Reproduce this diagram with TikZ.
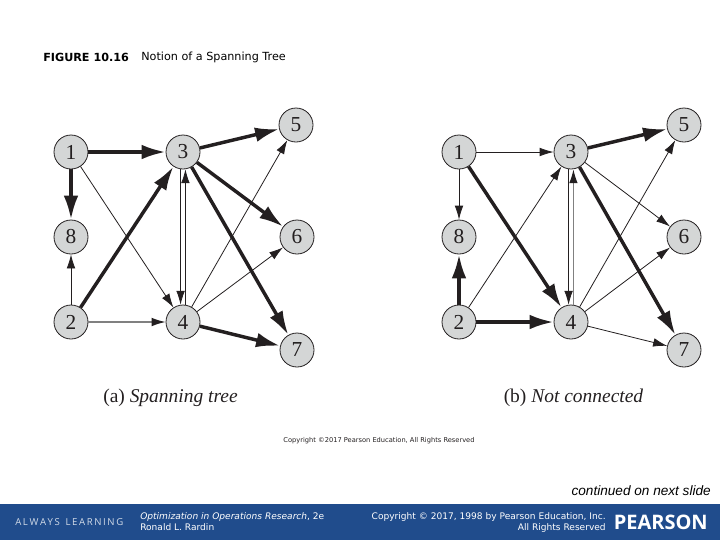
\documentclass[tikz,border=0pt]{standalone}
\usepackage{fontspec}
\setmainfont{Liberation Serif}
\newfontfamily\slidefont{DejaVu Sans}
\newfontfamily\notefont{Liberation Sans}
\newfontfamily\logofont{Open Sans}
\usetikzlibrary{arrows.meta,positioning}
\definecolor{bandblue}{HTML}{204C8C}
\definecolor{nodegray}{HTML}{D4D6D6}
\definecolor{inkdark}{HTML}{231F20}

\begin{document}
\begin{tikzpicture}[
    x=0.75pt, y=-0.75pt,
    vertex/.style={circle, draw=inkdark, fill=nodegray, line width=0.6pt, minimum size=25.5pt,
                   inner sep=0pt, font=\fontsize{16}{16}\selectfont, text=inkdark},
    thinarc/.style={-{Latex[length=10.5pt,width=6.5pt,color=inkdark]}, line width=0.6pt, draw=inkdark},
    greyarc/.style={-{Latex[length=10.5pt,width=6.5pt,color=inkdark]}, line width=1pt, draw=gray},
    heavyarc/.style={-{Latex[length=18pt,width=11pt,color=inkdark]}, line width=2.6pt, draw=inkdark},
    caption/.style={font=\fontsize{14.6}{14.6}\selectfont, text=inkdark, inner sep=0pt},
    bandtext/.style={font=\slidefont\fontsize{6.8}{8.4}\selectfont, text=white, inner sep=0pt}
]
\useasboundingbox (0,0) rectangle (720,540);

%% ---- title ----
\node[anchor=west, inner sep=0pt, font=\slidefont\bfseries\fontsize{8.4}{10}\selectfont] (figno) at (43,57) {FIGURE 10.16};
\node[anchor=west, inner sep=0pt, font=\slidefont\fontsize{8.4}{10}\selectfont] (figtitle) at (141,57) {Notion of a Spanning Tree};

%% ---- (a) spanning tree ----
\node[vertex] (a1) at (71,152) {1};
\node[vertex] (a3) at (183,152) {3};
\node[vertex] (a5) at (296,125) {5};
\node[vertex] (a8) at (71,237) {8};
\node[vertex] (a6) at (297,237) {6};
\node[vertex] (a2) at (71,322) {2};
\node[vertex] (a4) at (183,322) {4};
\node[vertex] (a7) at (297,350) {7};

\draw[heavyarc] (a1)--(a3);
\draw[heavyarc] (a1)--(a8);
\draw[heavyarc] (a2)--(a3);
\draw[heavyarc] (a3)--(a5);
\draw[heavyarc] (a3)--(a6);
\draw[heavyarc] (a3)--(a7);
\draw[heavyarc] (a4)--(a7);
\draw[thinarc] (a1)--(a4);
\draw[thinarc] (a2)--(a8);
\draw[greyarc] (a2)--(a4);
\draw[thinarc] (a3.262)--(a4.98);
\draw[thinarc] (a4.82)--(a3.278);
\draw[thinarc] (a4)--(a5);
\draw[thinarc] (a4)--(a6);

%% ---- (b) not connected ----
\node[vertex] (b1) at (459,152) {1};
\node[vertex] (b3) at (571,152) {3};
\node[vertex] (b5) at (684,125) {5};
\node[vertex] (b8) at (459,237) {8};
\node[vertex] (b6) at (684,237) {6};
\node[vertex] (b2) at (459,322) {2};
\node[vertex] (b4) at (571,322) {4};
\node[vertex] (b7) at (684,350) {7};

\draw[heavyarc] (b1)--(b4);
\draw[heavyarc] (b2)--(b8);
\draw[heavyarc] (b2)--(b4);
\draw[heavyarc] (b3)--(b5);
\draw[heavyarc] (b3)--(b7);
\draw[thinarc] (b1)--(b3);
\draw[thinarc] (b1)--(b8);
\draw[thinarc] (b2)--(b3);
\draw[thinarc] (b3)--(b6);
\draw[thinarc] (b3.262)--(b4.98);
\draw[greyarc] (b4.82)--(b3.278);
\draw[thinarc] (b4)--(b5);
\draw[thinarc] (b4)--(b6);
\draw[thinarc] (b4)--(b7);

%% ---- captions ----
\node[caption] (capa) at (170.5,398) {(a) \textit{Spanning tree}};
\node[caption] (capb) at (573.5,398) {(b) \textit{Not connected}};
\node[inner sep=0pt, font=\slidefont\fontsize{5}{6}\selectfont, text=inkdark] (figcopy) at (379,441) {Copyright ©2017 Pearson Education, All Rights Reserved};

%% ---- footer ----
\node[anchor=east, inner sep=0pt, font=\notefont\itshape\fontsize{10.2}{12}\selectfont] (contd) at (711,491) {continued on next slide};
\node[fill=bandblue, minimum width=540pt, minimum height=26.5pt, inner sep=0pt, anchor=north west] (band) at (0,504) {};
\node[bandtext, anchor=west, font=\logofont\fontsize{7.2}{8}\selectfont, text=white!80!bandblue] (always) at (15,522) {A\,L\,W\,A\,Y\,S\, \,L\,E\,A\,R\,N\,I\,N\,G};
\node[bandtext, anchor=north west, align=left] (book) at (140,512.5) {\textit{Optimization in Operations Research}, 2e\\Ronald L. Rardin};
\node[bandtext, anchor=north east, align=right] (rights) at (606,512.5) {Copyright © 2017, 1998 by Pearson Education, Inc.\\All Rights Reserved};
\node[bandtext, anchor=east, font=\logofont\bfseries\fontsize{15}{15}\selectfont] (logo) at (708,522) {PEARSON};
\end{tikzpicture}
\end{document}
